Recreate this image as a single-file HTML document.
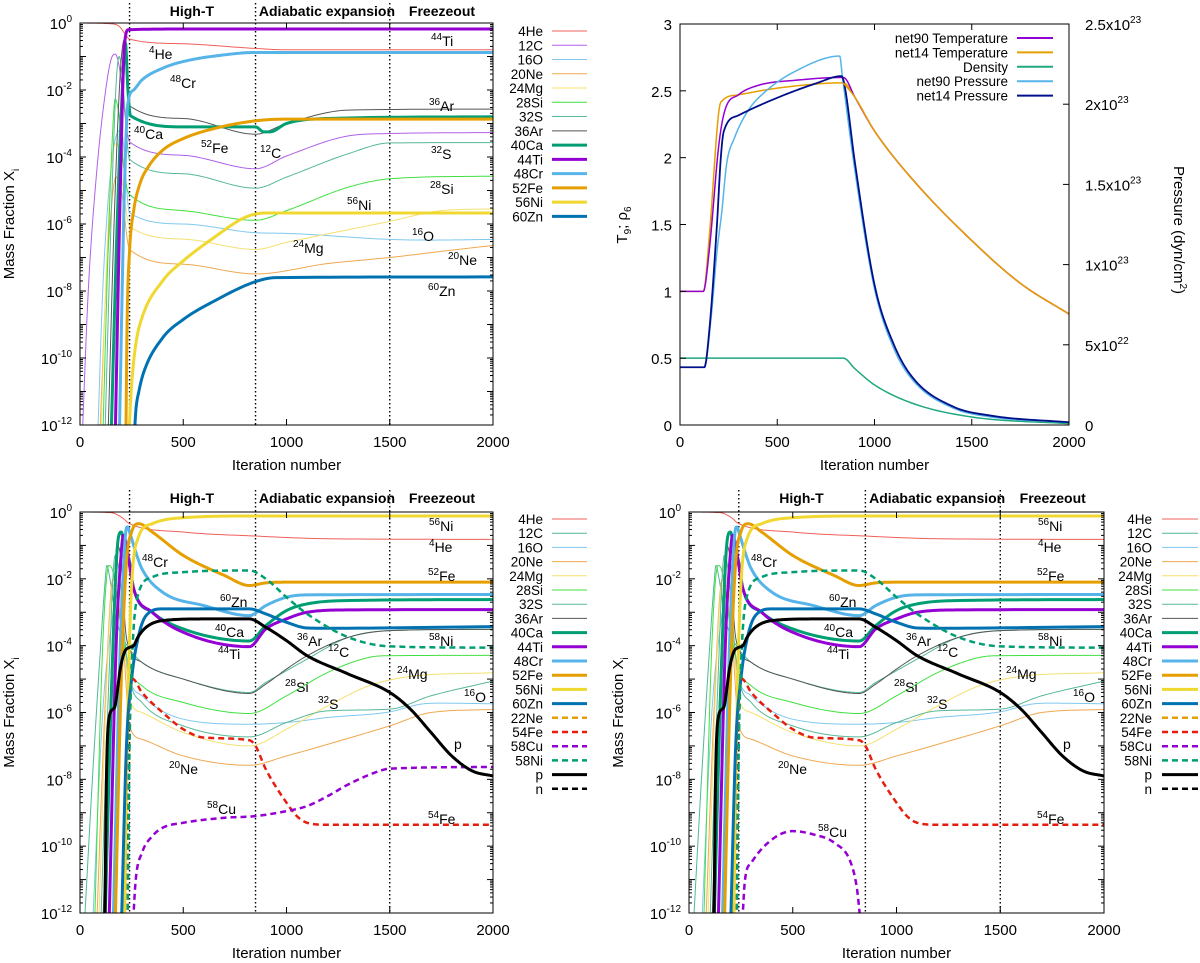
<!DOCTYPE html>
<html><head><meta charset="utf-8"><title>Nucleosynthesis network comparison</title>
<style>
html,body{margin:0;padding:0;background:#fff;}
svg{display:block;font-family:"Liberation Sans",sans-serif;}
</style></head>
<body>
<svg id="fig" width="1200" height="963" viewBox="0 0 1200 963" xmlns="http://www.w3.org/2000/svg"></svg>
<script>
// ---------- DATA (x = iteration, y = log10 mass fraction) ----------
const tl_He4=[[0,0],[140,-0.02],[190,-0.1],[215,-0.3],[240,-0.48],[500,-0.62],[850,-0.76],[1000,-0.8],[2000,-0.8]];
const tl_C12=[[10,-12.5],[40,-8],[80,-4.5],[120,-2.2],[150,-1.1],[170,-0.93],[190,-1.3],[215,-2.6],[240,-3.55],[500,-3.95],[850,-4.35],[1000,-3.97],[1300,-3.37],[1500,-3.3],[2000,-3.27]];
const tl_O16=[[85,-12.5],[110,-8],[140,-5],[170,-3.5],[200,-3.2],[240,-5.67],[500,-6.0],[850,-6.26],[1000,-6.28],[1500,-6.46],[1700,-6.48],[2000,-6.46]];
const tl_Ne20=[[95,-12.5],[125,-8],[160,-5],[175,-4.6],[200,-5],[240,-6.76],[500,-7.2],[850,-7.49],[1200,-7.18],[1500,-7.0],[1800,-6.78],[2000,-6.64]];
const tl_Mg24=[[100,-12.5],[130,-7],[160,-3.8],[180,-3.6],[210,-5],[240,-6.07],[500,-6.45],[850,-6.76],[1000,-6.55],[1500,-5.92],[1750,-5.6],[2000,-5.55]];
const tl_Si28=[[110,-12.5],[135,-7],[160,-3],[170,-2.27],[190,-2.8],[215,-4.5],[240,-5.12],[500,-5.6],[850,-5.89],[1000,-5.6],[1300,-4.9],[1500,-4.65],[2000,-4.57]];
const tl_S32=[[120,-12.5],[150,-6],[175,-1.8],[190,-1.0],[210,-2],[240,-4.07],[500,-4.5],[850,-4.93],[1000,-4.6],[1300,-3.9],[1500,-3.58],[2000,-3.57]];
const tl_Ar36=[[135,-12.5],[165,-6],[195,-1.5],[215,-0.5],[225,-1.5],[240,-2.47],[500,-2.85],[850,-3.32],[1000,-3.0],[1300,-2.6],[2000,-2.57]];
const tl_Ca40=[[150,-12.5],[180,-6],[205,-2],[220,-0.6],[232,-2],[245,-2.77],[500,-3.1],[850,-3.1],[890,-3.25],[920,-3.25],[1000,-3.0],[1200,-2.85],[2000,-2.8]];
const tl_Ti44=[[170,-12.5],[195,-5],[215,-0.7],[235,-0.2],[500,-0.18],[2000,-0.18]];
const tl_Cr48=[[190,-12.5],[215,-5],[232,-2.4],[260,-2.0],[300,-1.7],[400,-1.35],[500,-1.15],[700,-0.95],[850,-0.88],[2000,-0.88]];
const tl_Fe52=[[222,-12.5],[228,-9],[240,-6.8],[260,-5.6],[290,-4.8],[330,-4.3],[400,-3.8],[500,-3.45],[650,-3.15],[850,-2.92],[1000,-2.87],[2000,-2.87]];
const tl_Ni56=[[235,-12.5],[250,-10.8],[270,-9.6],[300,-8.8],[400,-7.7],[500,-7.1],[650,-6.4],[800,-5.8],[900,-5.67],[2000,-5.67]];
const tl_Zn60=[[262,-12.5],[270,-11.6],[285,-11.0],[310,-10.4],[400,-9.4],[500,-8.85],[650,-8.3],[850,-7.72],[950,-7.6],[2000,-7.58]];

// top-right: temperature/density (left axis), pressure in 1e23 dyn/cm2 (right axis)
const tr_T90=[[0,1],[120,1],[150,1.3],[200,2.1],[230,2.35],[300,2.47],[400,2.54],[600,2.58],[840,2.6],[900,2.45],[1000,2.2],[1200,1.83],[1500,1.38],[1750,1.06],[2000,0.83]];
const tr_T14=[[0,1],[120,1],[150,1.4],[200,2.35],[220,2.43],[300,2.47],[500,2.52],[840,2.56],[900,2.45],[1000,2.2],[1200,1.83],[1500,1.38],[1750,1.06],[2000,0.83]];
const tr_rho=[[0,0.5],[840,0.5],[900,0.42],[1000,0.3],[1200,0.16],[1500,0.06],[2000,0.01]];
const tr_P90=[[0,0.36],[125,0.36],[160,0.67],[190,1.08],[215,1.33],[240,1.63],[280,1.79],[350,1.96],[440,2.08],[600,2.21],[821,2.30],[835,2.17],[900,1.58],[1000,0.85],[1100,0.475],[1200,0.275],[1400,0.108],[1600,0.05],[2000,0.017]];
const tr_P14=[[0,0.36],[125,0.36],[150,0.58],[190,1.25],[210,1.67],[225,1.83],[300,1.93],[500,2.04],[700,2.13],[830,2.175],[845,2.125],[900,1.63],[1000,0.875],[1100,0.5],[1200,0.29],[1400,0.117],[1600,0.058],[2000,0.017]];

// bottom panels
const b_He4=[[0,0],[150,-0.02],[200,-0.15],[240,-0.35],[500,-0.6],[850,-0.72],[1200,-0.8],[2000,-0.82]];
const b_C12=[[20,-12.5],[60,-8],[100,-4],[120,-2.2],[130,-1.6],[145,-2.0],[175,-3.2],[210,-3.8],[240,-4.1],[300,-4.5],[500,-5.0],[820,-5.4],[900,-5.1],[1000,-4.75],[1100,-4.4],[1300,-3.75],[1500,-3.55],[2000,-3.51]];
const b_O16=[[60,-12.5],[110,-6],[150,-3.5],[180,-2.5],[200,-3.5],[240,-5.0],[300,-5.5],[500,-6.2],[820,-6.35],[1000,-6.3],[1200,-6.15],[1500,-5.98],[1650,-5.75],[1750,-5.72],[2000,-5.74]];
const b_Ne20=[[80,-12.5],[120,-6],[160,-2.0],[180,-2.5],[210,-4],[240,-6.4],[300,-6.8],[500,-7.3],[820,-7.58],[1000,-7.3],[1200,-6.95],[1500,-6.4],[1700,-6.0],[2000,-5.91]];
const b_Mg24=[[90,-12.5],[130,-5],[160,-2.2],[185,-2.2],[215,-4],[240,-5.6],[300,-6.0],[500,-6.6],[820,-7.0],[1000,-6.5],[1200,-5.8],[1400,-5.2],[1600,-4.92],[2000,-4.81]];
const b_Si28=[[70,-12.5],[110,-4],[140,-1.6],[160,-1.8],[200,-3.5],[240,-4.7],[300,-5.2],[500,-5.7],[820,-6.03],[1000,-5.5],[1200,-4.8],[1400,-4.35],[1500,-4.3],[2000,-4.29]];
const b_S32=[[100,-12.5],[140,-5],[170,-1.3],[190,-1.8],[220,-4],[240,-5.0],[300,-5.7],[500,-6.4],[820,-6.73],[1000,-6.3],[1200,-5.95],[1500,-5.9],[1700,-5.5],[2000,-5.06]];
const b_Ar36=[[110,-12.5],[150,-5],[180,-1.0],[200,-1.5],[220,-3.5],[240,-4.1],[300,-4.5],[500,-5.0],[820,-5.43],[900,-5.15],[1000,-4.7],[1100,-4.3],[1300,-3.75],[1500,-3.55],[2000,-3.51]];
const b_Ca40=[[120,-12.5],[160,-4],[185,-0.8],[200,-0.6],[215,-1],[240,-1.5],[260,-2.3],[350,-3.0],[500,-3.5],[820,-3.86],[900,-3.4],[1000,-2.95],[1100,-2.75],[1300,-2.65],[2000,-2.62]];
const b_Ti44=[[140,-12.5],[175,-4],[200,-1.2],[210,-0.7],[225,-1.0],[240,-1.6],[260,-2.3],[350,-3.0],[500,-3.6],[820,-4.03],[900,-3.5],[1000,-3.2],[1100,-3.0],[1300,-2.93],[2000,-2.92]];
const b_Cr48=[[160,-12.5],[195,-4],[220,-0.7],[230,-0.45],[245,-0.7],[270,-1.2],[300,-1.7],[400,-2.4],[600,-2.8],[820,-3.1],[900,-2.8],[1000,-2.55],[1100,-2.48],[2000,-2.47]];
const b_Fe52=[[170,-12.5],[200,-5],[225,-1.5],[250,-0.6],[285,-0.35],[350,-0.6],[500,-1.3],[700,-1.9],[820,-2.2],[900,-2.12],[1000,-2.1],[2000,-2.1]];
const b_Ni56=[[215,-12.5],[235,-5],[250,-2.2],[280,-0.8],[350,-0.35],[500,-0.17],[850,-0.12],[2000,-0.12]];
const b_Zn60=[[200,-12.5],[225,-7],[250,-5],[280,-3.8],[320,-3.1],[400,-2.9],[820,-2.9],[900,-3.05],[1000,-3.3],[1100,-3.47],[1200,-3.48],[2000,-3.43]];
const b_Ne22=[];
const b_Fe54=[[230,-12.5],[238,-7],[255,-5.0],[300,-5.4],[400,-6.0],[500,-6.5],[600,-6.75],[820,-6.83],[850,-7.0],[900,-7.7],[1000,-8.7],[1050,-9.1],[1100,-9.3],[1200,-9.36],[2000,-9.36]];
const bl_Cu58=[[255,-12.5],[270,-11],[300,-10.2],[350,-9.7],[400,-9.45],[500,-9.3],[700,-9.15],[850,-9.1],[1000,-8.95],[1100,-8.8],[1200,-8.5],[1300,-8.15],[1450,-7.75],[1500,-7.68],[2000,-7.63]];
const br_Cu58=[[255,-12.5],[270,-11],[300,-10.5],[400,-9.8],[500,-9.55],[600,-9.65],[700,-9.9],[780,-10.5],[810,-11.3],[830,-12.5]];
const b_Ni58=[[230,-12.5],[240,-7],[255,-4],[280,-2.5],[350,-1.95],[500,-1.8],[820,-1.75],[900,-2.0],[1000,-2.55],[1100,-3.05],[1300,-3.75],[1500,-4.02],[2000,-4.06]];
const b_p=[[120,-12.5],[128,-8],[140,-6.2],[160,-5.9],[170,-5.8],[180,-5.4],[195,-4.7],[215,-4.2],[240,-4.05],[260,-4.0],[280,-3.75],[320,-3.45],[400,-3.25],[600,-3.2],[820,-3.2],[900,-3.45],[1000,-3.85],[1100,-4.3],[1300,-4.85],[1500,-5.4],[1600,-5.9],[1700,-6.6],[1800,-7.3],[1900,-7.75],[2000,-7.9]];
const b_n=[];

const xTicks=[0,500,1000,1500,2000];
const logTicks=[0,-2,-4,-6,-8,-10,-12];
const tLeftTicks=[0,0.5,1,1.5,2,2.5,3];
const pRightTicks=[0,0.5,1,1.5,2,2.5];
const pRightLabels=["0","5x10|22","1x10|23","1.5x10|23","2x10|23","2.5x10|23"];
const phaseLines=[240,850,1500];
const phaseNames=['High-T','Adiabatic expansion','Freezeout'];
const phaseLabelX=[542,1196,1753];

// ---------- DRAWING ----------
const NS="http://www.w3.org/2000/svg";
const svg=document.getElementById('fig');
function mk(tag,attrs,parent){const e=document.createElementNS(NS,tag);for(const k in attrs)e.setAttribute(k,attrs[k]);(parent||svg).appendChild(e);return e;}

function monoSample(pts){
  const n=pts.length;if(n<2)return pts.slice();
  const d=[],m=[];
  for(let i=0;i<n-1;i++)d.push((pts[i+1][1]-pts[i][1])/(pts[i+1][0]-pts[i][0]));
  m.push(d[0]);for(let i=1;i<n-1;i++){m.push(d[i-1]*d[i]<=0?0:(d[i-1]+d[i])/2);}m.push(d[n-2]);
  for(let i=0;i<n-1;i++){if(d[i]===0){m[i]=0;m[i+1]=0;continue;}const a=m[i]/d[i],b=m[i+1]/d[i];const s=a*a+b*b;if(s>9){const t=3/Math.sqrt(s);m[i]=t*a*d[i];m[i+1]=t*b*d[i];}}
  const out=[];
  for(let i=0;i<n-1;i++){const x0=pts[i][0],x1=pts[i+1][0],y0=pts[i][1],y1=pts[i+1][1],h=x1-x0;
    for(let k=0;k<16;k++){const t=k/16,t2=t*t,t3=t2*t;
      const y=(2*t3-3*t2+1)*y0+(t3-2*t2+t)*h*m[i]+(-2*t3+3*t2)*y1+(t3-t2)*h*m[i+1];out.push([x0+t*h,y]);}}
  out.push(pts[n-1]);return out;
}

function makePanel(name,L,R,T,B,yMin,yMax){
  const g=mk('g',{});
  
  
  const sx=v=>L+(v/2000)*(R-L);
  const sy=v=>B-(v-yMin)/(yMax-yMin)*(B-T);
  const cid='clip-'+name;
  const cp=mk('clipPath',{id:cid},g);mk('rect',{x:L,y:T,width:R-L,height:B-T},cp);
  return {g,sx,sy,L,R,T,B,cid};
}

function xAxis(P,labelY){
  xTicks.forEach(v=>{
    const x=P.sx(v);
    mk('line',{x1:x,y1:P.B,x2:x,y2:P.B-6,stroke:'#000','stroke-width':1},P.g);
    mk('line',{x1:x,y1:P.T,x2:x,y2:P.T+6,stroke:'#000','stroke-width':1},P.g);
    const t=mk('text',{x:x,y:P.B+22,'text-anchor':'middle','font-size':15,fill:'#000'},P.g);
    
    
    t.textContent=v;
  });
  const t=mk('text',{x:(P.L+P.R)/2,y:labelY,'text-anchor':'middle','font-size':15,fill:'#000'},P.g);
  
  
  t.textContent='Iteration number';
}

function logAxis(P){
  for(let d=-12;d<=0;d++){
    const y=P.sy(d);
    mk('line',{x1:P.L,y1:y,x2:P.L+6,y2:y,stroke:'#000'},P.g);
    mk('line',{x1:P.R,y1:y,x2:P.R-6,y2:y,stroke:'#000'},P.g);
    if(d<0)for(let k=2;k<10;k++){const yy=P.sy(d+Math.log10(k));mk('line',{x1:P.L,y1:yy,x2:P.L+3,y2:yy,stroke:'#000'},P.g);mk('line',{x1:P.R,y1:yy,x2:P.R-3,y2:yy,stroke:'#000'},P.g);}
  }
  logTicks.forEach(v=>{
    const t=mk('text',{x:P.L-8,y:P.sy(v)+6,'text-anchor':'end','font-size':15,fill:'#000'},P.g);
    
    
    t.appendChild(document.createTextNode('10'));
    const s=mk('tspan',{dy:-7,'font-size':10},t);s.textContent=String(v);
  });
  const yt=mk('text',{transform:`translate(${P.L-66},${(P.T+P.B)/2}) rotate(-90)`,'text-anchor':'middle','font-size':15,fill:'#000'},P.g);
  
  
  yt.appendChild(document.createTextNode('Mass Fraction X'));
  const sb=mk('tspan',{dy:5,'font-size':10},yt);sb.textContent='i';
}

function phases(P,topY){
  phaseLines.forEach(v=>{
    const l=mk('line',{x1:P.sx(v),y1:topY,x2:P.sx(v),y2:P.B,stroke:'#000','stroke-width':1.4,'stroke-dasharray':'1.5,2.5'},P.g);
    
    
  });
  phaseNames.forEach((n,i)=>{
    const t=mk('text',{x:P.sx(phaseLabelX[i]),y:topY+13,'text-anchor':'middle','font-size':14,'font-weight':'bold',fill:'#000'},P.g);
    
    
    t.textContent=n;
  });
}

function drawSeries(P,pts,color,w,dash,name,yMap){
  if(!pts.length)return;
  const s=monoSample(pts);
  const d=s.map((p,i)=>(i?'L':'M')+P.sx(p[0]).toFixed(2)+','+(yMap?yMap(p[1]):P.sy(p[1])).toFixed(2)).join('');
  const path=mk('path',{d:d,fill:'none',stroke:color,'stroke-width':w,'stroke-linejoin':'round','clip-path':`url(#${P.cid})`},P.g);
  if(dash)path.setAttribute('stroke-dasharray',dash);
  
  
}

function frame(P){
  const r=mk('rect',{x:P.L,y:P.T,width:P.R-P.L,height:P.B-P.T,fill:'none',stroke:'#000','stroke-width':1},P.g);
  
  
}

function legend(P,entries,textRight,lineL,lineR,y0,step){
  entries.forEach((e,i)=>{
    const y=y0+i*step;
    const t=mk('text',{x:textRight,y:y+5,'text-anchor':'end','font-size':13.5,fill:'#000'},P.g);
    
    
    t.textContent=e[0];
    const l=mk('line',{x1:lineL,y1:y,x2:lineR,y2:y,stroke:e[1],'stroke-width':e[2]},P.g);
    if(e[3])l.setAttribute('stroke-dasharray',e[3]);
    
    
  });
}

function labels(P,list,dx){
  list.forEach(a=>{
    const t=mk('text',{x:a[2]+dx,y:a[3]+6,'font-size':14,fill:'#000'},P.g);
    
    
    if(a[0]){const s=mk('tspan',{dy:-6,'font-size':10},t);s.textContent=a[0];const s2=mk('tspan',{dy:6},t);s2.textContent=a[1];}
    else t.textContent=a[1];
  });
}

const C={He:'#f0605a',C12top:'#b060e8',C12:'#50b898',O:'#80c8f0',Ne:'#f0a850',Mg:'#f5e070',Si:'#40e040',S:'#58b898',Ar:'#555555',Ca:'#009e73',Ti:'#9400d3',Cr:'#56b4e9',Fe:'#e69f00',Ni:'#f0d830',Zn:'#0072b2',Fe54:'#e51e10'};
const TH=3;

// ---------- PANEL 1: top-left ----------
const P1=makePanel('top-left-abundances',80,493,23,425,-12,0);
phases(P1,3);
const tlSeries=[['4He',tl_He4,C.He,1,''],['12C',tl_C12,C.C12top,1,''],['16O',tl_O16,C.O,1,''],['20Ne',tl_Ne20,C.Ne,1,''],['24Mg',tl_Mg24,C.Mg,1,''],['28Si',tl_Si28,C.Si,1,''],['32S',tl_S32,C.S,1,''],['36Ar',tl_Ar36,C.Ar,1,''],['40Ca',tl_Ca40,C.Ca,TH,''],['44Ti',tl_Ti44,C.Ti,TH,''],['48Cr',tl_Cr48,C.Cr,TH,''],['52Fe',tl_Fe52,C.Fe,TH,''],['56Ni',tl_Ni56,C.Ni,TH,''],['60Zn',tl_Zn60,C.Zn,TH,'']];
tlSeries.forEach(s=>drawSeries(P1,s[1],s[2],s[3],s[4],s[0]));
frame(P1);logAxis(P1);xAxis(P1,470);
legend(P1,tlSeries.map(s=>[s[0],s[2],s[3],s[4]]),543,552,587,31,14.26);
labels(P1,[['44','Ti',431,40],['4','He',149,53],['48','Cr',170,82],['36','Ar',429,105],['40','Ca',134,133],['52','Fe',201,147],['12','C',260,152],['32','S',431,153],['28','Si',430,188],['56','Ni',347,204],['16','O',412,235],['24','Mg',293,247],['20','Ne',448,259],['60','Zn',428,290]],0);

// ---------- PANEL 2: top-right ----------
const P2=makePanel('top-right-thermo',680,1069,24,425,0,3);
const sP=v=>P2.sy(v*1.2);
drawSeries(P2,tr_rho,'#20a880',1.5,'','density');
drawSeries(P2,tr_T14,'#e69f00',1.5,'','net14-temperature');
drawSeries(P2,tr_T90,'#9400d3',1.5,'','net90-temperature');
drawSeries(P2,tr_P90,'#56b4e9',1.5,'','net90-pressure',sP);
drawSeries(P2,tr_P14,'#00108a',1.8,'','net14-pressure',sP);
drawSeries(P2,tr_T14.filter(p=>p[0]>=840),'#e69f00',1.5,'','net14-temperature-decline');
frame(P2);
tLeftTicks.forEach(v=>{
  const y=P2.sy(v);
  mk('line',{x1:P2.L,y1:y,x2:P2.L+6,y2:y,stroke:'#000'},P2.g);
  const t=mk('text',{x:P2.L-8,y:y+6,'text-anchor':'end','font-size':15,fill:'#000'},P2.g);
  
  
  t.textContent=v;
});
pRightTicks.forEach((v,i)=>{
  const y=sP(v);
  mk('line',{x1:P2.R,y1:y,x2:P2.R-6,y2:y,stroke:'#000'},P2.g);
  const t=mk('text',{x:P2.R+16,y:y+6,'font-size':15,fill:'#000'},P2.g);
  
  
  const parts=pRightLabels[i].split('|');
  t.appendChild(document.createTextNode(parts[0]));
  if(parts[1]){const s=mk('tspan',{dy:-7,'font-size':10},t);s.textContent=parts[1];}
});
xAxis(P2,470);
(function(){
  const t=mk('text',{transform:`translate(627,225) rotate(-90)`,'text-anchor':'middle','font-size':15,fill:'#000'},P2.g);
  
  
  t.appendChild(document.createTextNode('T'));
  let s=mk('tspan',{dy:4,'font-size':10},t);s.textContent='9';
  s=mk('tspan',{dy:-4},t);s.textContent='; ρ';
  s=mk('tspan',{dy:4,'font-size':10},t);s.textContent='6';
  const r=mk('text',{transform:`translate(1174,230) rotate(90)`,'text-anchor':'middle','font-size':15,fill:'#000'},P2.g);
  
  
  r.appendChild(document.createTextNode('Pressure (dyn/cm'));
  s=mk('tspan',{dy:-6,'font-size':10},r);s.textContent='2';
  s=mk('tspan',{dy:6},r);s.textContent=')';
})();
legend(P2,[['net90 Temperature','#9400d3',2],['net14 Temperature','#e69f00',2],['Density','#20a880',2],['net90 Pressure','#56b4e9',2],['net14 Pressure','#00108a',2]],1008,1017,1053,38,14.4);

// ---------- PANELS 3 & 4: bottom ----------
function bottomPanel(name,L,R,cu,legTextR,legL,legR,dx,cuLabel){
  const P=makePanel(name,L,R,512,913,-12,0);
  phases(P,490);
  const ser=[['4He',b_He4,C.He,1,''],['12C',b_C12,C.C12,1,''],['16O',b_O16,C.O,1,''],['20Ne',b_Ne20,C.Ne,1,''],['24Mg',b_Mg24,C.Mg,1,''],['28Si',b_Si28,C.Si,1,''],['32S',b_S32,C.S,1,''],['36Ar',b_Ar36,C.Ar,1,''],['40Ca',b_Ca40,C.Ca,TH,''],['44Ti',b_Ti44,C.Ti,TH,''],['48Cr',b_Cr48,C.Cr,TH,''],['52Fe',b_Fe52,C.Fe,TH,''],['56Ni',b_Ni56,C.Ni,TH,''],['60Zn',b_Zn60,C.Zn,TH,''],['22Ne',b_Ne22,C.Fe,2.5,'6,4'],['54Fe',b_Fe54,C.Fe54,2.5,'6,4'],['58Cu',cu,C.Ti,2.5,'6,4'],['58Ni',b_Ni58,C.Ca,2.5,'6,4'],['p',b_p,'#000',TH,''],['n',b_n,'#000',2.5,'6,4']];
  ser.forEach(s=>drawSeries(P,s[1],s[2],s[3],s[4],s[0]));
  frame(P);logAxis(P);xAxis(P,958);
  legend(P,ser.map(s=>[s[0],s[2],s[3],s[4]]),legTextR,legL,legR,519,14.2);
  labels(P,[['56','Ni',429,525],['4','He',429,546],['48','Cr',142,561],['52','Fe',428,575],['60','Zn',220,601],['40','Ca',215,631],['44','Ti',218,653],['36','Ar',297,640],['12','C',328,651],['58','Ni',429,640],['24','Mg',397,673],['28','Si',285,686],['32','S',318,703],['16','O',464,696],['','p',454,743],['20','Ne',169,768],['54','Fe',428,818]],dx);
  labels(P,[cuLabel],0);
  return P;
}
bottomPanel('bottom-left-abundances',80,493,bl_Cu58,543,552,587,0,['58','Cu',207,808]);
bottomPanel('bottom-right-abundances',689,1104,br_Cu58,1152,1162,1198,609,['58','Cu',818,831]);
</script>
</body></html>
